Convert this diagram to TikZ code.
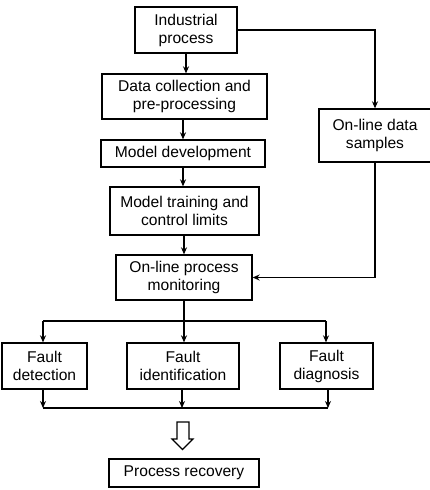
\documentclass[tikz,border=0pt]{standalone}
\usepackage{fontspec}
\setmainfont{Liberation Sans}
\usetikzlibrary{arrows.meta}
\begin{document}
\begin{tikzpicture}[x=1pt,y=-1pt,
  box/.style={draw=black,line width=1.3pt,align=center,inner sep=0pt,
    font=\fontsize{15.6}{18}\selectfont},
  conn/.style={line width=1.3pt},
  arr/.style={line width=1.3pt,-{Stealth[length=7pt,width=6pt]}}]
\useasboundingbox (0,0) rectangle (430,490);
\node[box,minimum width=102pt,minimum height=46pt] (ip) at (186,30) {Industrial\\process};
\node[box,minimum width=165pt,minimum height=45pt] (dc) at (184.5,96.5) {Data collection and\\pre-processing};
\node[box,minimum width=164pt,minimum height=27pt] (md) at (183,153.5) {Model development};
\node[box,minimum width=149pt,minimum height=48pt] (mt) at (184.5,211) {Model training and\\control limits};
\node[box,minimum width=112pt,minimum height=53pt] (os) at (375,135.5) {On-line data\\samples};
\node[box,minimum width=136pt,minimum height=45pt] (om) at (184,277.5) {On-line process\\monitoring};
\node[box,minimum width=85pt,minimum height=46pt] (fd) at (44.5,366) {Fault\\detection};
\node[box,minimum width=112pt,minimum height=46pt] (fi) at (183,366) {Fault\\identification};
\node[box,minimum width=93pt,minimum height=46pt] (fg) at (326.5,366) {Fault\\diagnosis};
\node[box,minimum width=150pt,minimum height=28pt] (pr) at (184,473) {Process recovery};

\draw[arr] (ip.south) -- (ip.south |- dc.north);
\draw[arr] (dc.south -| md.north) -- (md.north);
\draw[arr] (md.south) -- (md.south |- mt.north);
\draw[arr] (mt.south -| om.north) -- (om.north);
\draw[arr] (ip.east) -| (os.north);
\draw[arr] (os.south) |- (om.east);

\coordinate (s1) at (184,321);
\coordinate (sl) at (43,321);
\coordinate (sr) at (326,321);
\draw[conn] (om.south) -- (s1);
\draw[conn] (sl) -- (sr);
\draw[arr] (sl) -- (sl |- fd.north);
\draw[arr] (s1) -- (s1 |- fi.north);
\draw[arr] (sr) -- (sr |- fg.north);

\coordinate (jl) at (43,408);
\coordinate (jm) at (182,408);
\coordinate (jr) at (328,408);
\draw[conn] (jl) -- (jr);
\draw[arr] (jl |- fd.south) -- (jl);
\draw[arr] (jm |- fi.south) -- (jm);
\draw[arr] (jr |- fg.south) -- (jr);

\draw[line width=1.2pt,fill=white,line join=miter]
  (177,422) -- (189,422) -- (189,439) -- (193,439) -- (182.5,449.5)
  -- (172,439) -- (177,439) -- cycle;
\end{tikzpicture}
\end{document}
